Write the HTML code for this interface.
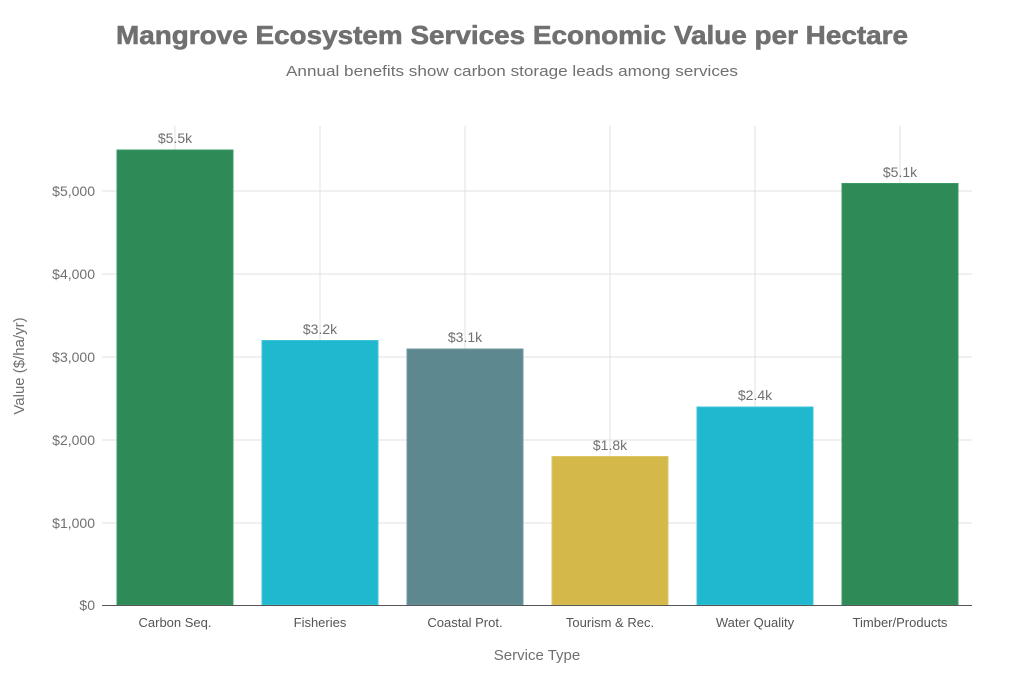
<!DOCTYPE html>
<html><head><style>body{margin:0;background:#fff}</style></head><body>
<svg width="1024" height="683" xmlns="http://www.w3.org/2000/svg" font-family="Liberation Sans, sans-serif">
<rect width="1024" height="683" fill="#fff"/>
<text x="512" y="44" text-anchor="middle" font-size="26" font-weight="bold" fill="#707070" stroke="#707070" stroke-width="0.6" textLength="792" lengthAdjust="spacingAndGlyphs">Mangrove Ecosystem Services Economic Value per Hectare</text>
<text x="512" y="76" text-anchor="middle" font-size="15" fill="#707070" textLength="452" lengthAdjust="spacingAndGlyphs">Annual benefits show carbon storage leads among services</text>
<g stroke="#e0e0e0" stroke-width="1">
<line x1="102" x2="972" y1="523" y2="523"/><line x1="102" x2="972" y1="440" y2="440"/>
<line x1="102" x2="972" y1="357" y2="357"/><line x1="102" x2="972" y1="274" y2="274"/>
<line x1="102" x2="972" y1="191" y2="191"/>
<line x1="175" x2="175" y1="126" y2="605"/><line x1="320" x2="320" y1="126" y2="605"/>
<line x1="465" x2="465" y1="126" y2="605"/><line x1="610" x2="610" y1="126" y2="605"/>
<line x1="755" x2="755" y1="126" y2="605"/><line x1="900" x2="900" y1="126" y2="605"/>
</g>
<g stroke-width="1">
<rect x="117" y="150" width="116" height="455" fill="#2e8b57" stroke="#3a9a66"/>
<rect x="262" y="340.5" width="116" height="264.5" fill="#20b8cf" stroke="#40c4d8"/>
<rect x="407" y="349" width="116" height="256" fill="#5e8890" stroke="#7098a0"/>
<rect x="552" y="456.5" width="116" height="148.5" fill="#d4b94a" stroke="#ddc664"/>
<rect x="697" y="407" width="116" height="198" fill="#20b8cf" stroke="#40c4d8"/>
<rect x="842" y="183.5" width="116" height="421.5" fill="#2e8b57" stroke="#3a9a66"/>
</g>
<line x1="102" x2="972" y1="605.5" y2="605.5" stroke="#555"/>
<g font-size="14" fill="#707070" text-anchor="middle">
<text x="175" y="143">$5.5k</text><text x="320" y="334">$3.2k</text><text x="465" y="342">$3.1k</text>
<text x="610" y="450">$1.8k</text><text x="755" y="400">$2.4k</text><text x="900" y="177">$5.1k</text>
</g>
<g font-size="14" fill="#707070" text-anchor="end">
<text x="95" y="610">$0</text><text x="95" y="528">$1,000</text><text x="95" y="445">$2,000</text>
<text x="95" y="362">$3,000</text><text x="95" y="279">$4,000</text><text x="95" y="196">$5,000</text>
</g>
<g font-size="13" fill="#555" text-anchor="middle">
<text x="175" y="627">Carbon Seq.</text><text x="320" y="627">Fisheries</text><text x="465" y="627">Coastal Prot.</text>
<text x="610" y="627">Tourism &amp; Rec.</text><text x="755" y="627">Water Quality</text><text x="900" y="627">Timber/Products</text>
</g>
<text x="537" y="660" text-anchor="middle" font-size="15" fill="#707070">Service Type</text>
<text transform="translate(24,366) rotate(-90)" text-anchor="middle" font-size="15" fill="#707070">Value ($/ha/yr)</text>
</svg>
</body></html>
